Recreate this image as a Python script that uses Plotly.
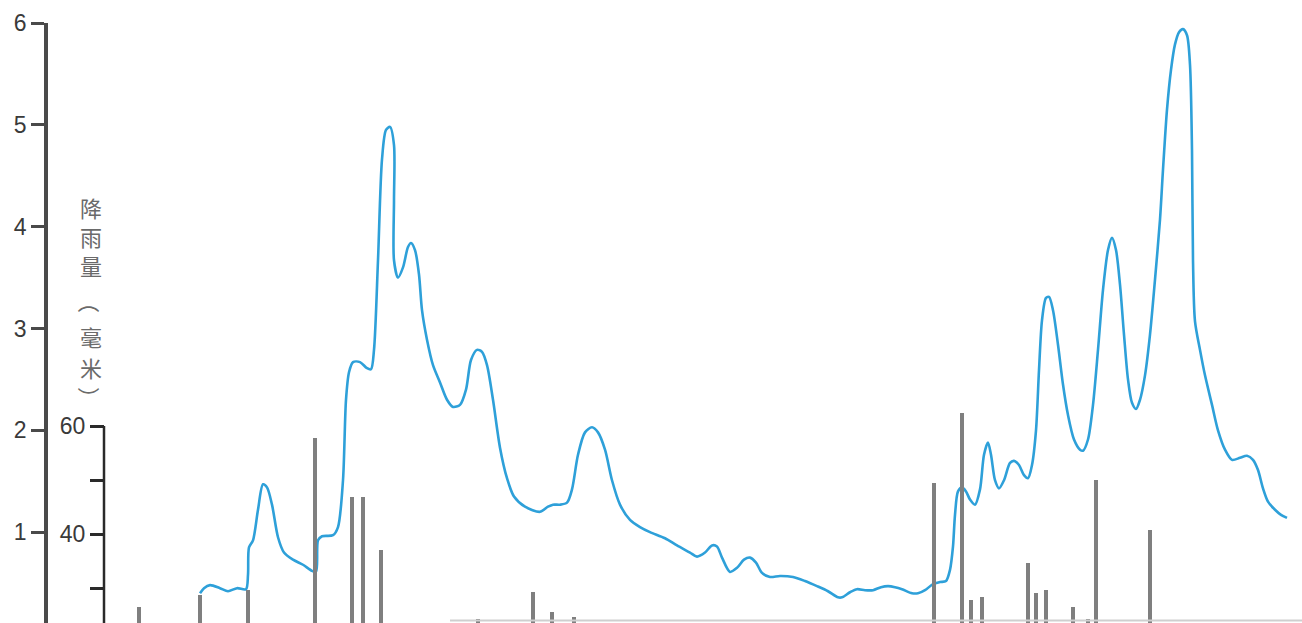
import plotly.graph_objects as go

# ---- data ----
# discharge curve: day index vs discharge (left axis, 0-6)
flow_day = [9.6, 10.0, 10.6, 11.6, 12.4, 13.3, 14.2, 14.4, 14.5, 14.9, 15.4, 15.9, 16.3, 16.8, 17.4, 18.0,
            18.9, 19.9, 20.8, 21.2, 21.4, 21.8, 22.9, 23.4, 23.9, 24.2, 24.5, 24.9, 25.6, 26.3, 26.7, 27.0,
            27.4, 27.8, 28.2, 28.6, 29.0, 29.0, 29.0, 29.4, 29.9, 30.4, 30.7, 31.1, 31.5, 31.8, 32.3, 32.9,
            33.6, 34.3, 34.9, 35.6, 36.2, 36.7, 37.3, 37.8, 38.3, 38.9, 39.6, 40.3, 41.0, 42.1, 43.6, 44.4,
            44.9, 45.6, 46.3, 46.8, 47.4, 48.1, 48.8, 49.4, 50.1, 50.8, 51.6, 52.6, 53.6, 54.6, 56.1, 57.3,
            58.6, 59.3, 60.1, 60.8, 61.3, 61.8, 62.6, 63.3, 64.0, 64.6, 65.2, 65.8, 66.6, 67.6, 68.9, 70.1,
            71.3, 72.4, 73.4, 73.8, 74.6, 75.3, 76.1, 76.9, 77.7, 78.4, 79.1, 79.8, 80.8, 81.4, 82.1, 82.9,
            83.6, 84.2, 84.6, 84.9, 85.1, 85.4, 85.8, 86.2, 86.6, 87.1, 87.6, 88.0, 88.4, 88.7, 89.1, 89.5,
            90.0, 90.6, 91.0, 91.5, 92.0, 92.4, 92.8, 93.2, 93.5, 93.8, 94.2, 94.5, 94.9, 95.4, 95.9, 96.4,
            97.0, 97.6, 97.9, 98.4, 98.9, 99.4, 99.9, 100.4, 100.8, 101.2, 101.6, 102.0, 102.4, 102.8, 103.2,
            103.6, 104.1, 104.6, 105.1, 105.6, 105.9, 106.3, 106.7, 107.1, 107.5, 107.9, 108.3, 108.6, 108.8,
            108.9, 109.1, 109.6, 110.1, 110.8, 111.4, 112.1, 112.8, 113.6, 114.3, 114.9, 115.4, 115.9, 116.4,
            117.1, 117.7, 118.3]
flow_val = [0.40, 0.45, 0.48, 0.45, 0.42, 0.45, 0.44, 0.58, 0.85, 0.92, 1.22, 1.47, 1.44, 1.27, 0.95, 0.80,
            0.73, 0.68, 0.62, 0.61, 0.92, 0.96, 0.97, 1.05, 1.51, 2.30, 2.57, 2.67, 2.67, 2.61, 2.60, 2.79,
            3.67, 4.66, 4.95, 4.98, 4.80, 4.26, 3.67, 3.50, 3.60, 3.80, 3.84, 3.77, 3.53, 3.18, 2.89, 2.64,
            2.47, 2.30, 2.23, 2.25, 2.40, 2.69, 2.79, 2.77, 2.64, 2.30, 1.83, 1.53, 1.35, 1.25, 1.20, 1.25,
            1.27, 1.27, 1.29, 1.42, 1.76, 1.98, 2.03, 1.98, 1.81, 1.51, 1.27, 1.12, 1.05, 1.00, 0.94, 0.87,
            0.80, 0.76, 0.80, 0.87, 0.86, 0.75, 0.61, 0.65, 0.73, 0.75, 0.70, 0.60, 0.56, 0.57, 0.56, 0.52,
            0.47, 0.42, 0.36, 0.36, 0.41, 0.44, 0.43, 0.43, 0.46, 0.47, 0.46, 0.44, 0.40, 0.40, 0.43, 0.49,
            0.51, 0.52, 0.63, 0.86, 1.17, 1.40, 1.44, 1.40, 1.32, 1.27, 1.42, 1.76, 1.88, 1.76, 1.51, 1.43,
            1.51, 1.68, 1.70, 1.66, 1.56, 1.53, 1.66, 2.00, 2.59, 3.08, 3.30, 3.31, 3.18, 2.84, 2.45, 2.15,
            1.91, 1.81, 1.80, 1.91, 2.25, 2.79, 3.38, 3.77, 3.89, 3.77, 3.43, 2.94, 2.50, 2.27, 2.21,
            2.30, 2.54, 2.94, 3.48, 4.07, 4.56, 5.15, 5.54, 5.79, 5.91, 5.94, 5.88, 5.59, 4.75,
            3.67, 3.07, 2.79, 2.54, 2.25, 2.00, 1.81, 1.71, 1.73, 1.75, 1.71, 1.61, 1.43, 1.30,
            1.22, 1.17, 1.14]

# rainfall bars: day index vs rainfall (mm)
rain_day = [3.5, 9.6, 14.4, 21.1, 24.8, 25.9, 27.7, 37.4, 42.9, 44.8, 47.0,
            83.0, 85.8, 86.7, 87.8, 92.4, 93.2, 94.2, 96.9, 98.4, 99.2, 104.6]
rain_mm = [26.5, 28.7, 29.6, 57.8, 46.9, 46.9, 37.0, 24.2, 29.3, 25.6, 24.6,
           49.4, 62.4, 27.8, 28.3, 34.6, 29.1, 29.6, 26.5, 24.2, 50.0, 40.7]

flow_ticks = [1, 2, 3, 4, 5, 6]
rain_ticks = [30, 40, 50, 60]
rain_ticktext = ["", "40", "", "60"]
rain_title = ["降", "雨", "量", "（", "毫", "米", "）"]

W, H = 1302, 623
ML, MT = 48, 23
PW, PH = W - ML, H - MT
rain_axis_pos = (104 - ML) / PW

fig = go.Figure()
fig.add_trace(go.Bar(x=rain_day, y=rain_mm, yaxis="y2", width=0.32,
                     marker=dict(color="#7f7f7f", line=dict(width=0)), showlegend=False))
fig.add_trace(go.Scatter(x=flow_day, y=flow_val, mode="lines",
                         line=dict(color="#2ea0d9", width=2.6, shape="spline", smoothing=0.8),
                         showlegend=False))

axis_col = "#4a4a4a"
fig.update_layout(
    width=W, height=H,
    margin=dict(l=ML, r=0, t=MT, b=0),
    paper_bgcolor="white", plot_bgcolor="white",
    font=dict(family="Liberation Sans, Arial, sans-serif", color="#3a3a3a", size=20),
    xaxis=dict(range=[-5.6, 119.8], visible=False),
    yaxis=dict(range=[0.108, 6.0], tickvals=flow_ticks, showgrid=False, zeroline=False,
               showline=True, linecolor=axis_col, linewidth=3.5,
               ticks="outside", ticklen=13, tickwidth=2.5, tickcolor=axis_col,
               tickfont=dict(size=23, color="#3a3a3a")),
    yaxis2=dict(range=[23.52, 134.63], overlaying="y", anchor="free", position=rain_axis_pos,
                side="left", tickvals=rain_ticks, ticktext=rain_ticktext, showgrid=False,
                zeroline=False, showline=False,
                ticks="outside", ticklen=14, tickwidth=2.5, tickcolor="#2a2a2a",
                tickfont=dict(size=23, color="#3a3a3a")),
    bargap=0,
)

# rainfall axis line only spans up to the 60 tick
fig.add_shape(type="line", xref="paper", yref="y2", x0=rain_axis_pos, x1=rain_axis_pos,
              y0=23.52, y1=60, line=dict(color="#2a2a2a", width=2.5))
# faint baseline at the bottom edge
fig.add_shape(type="line", xref="paper", yref="paper", x0=(450 - ML) / PW, x1=1,
              y0=0.004, y1=0.004, line=dict(color="#cfcfcf", width=2))

# vertical axis title, one upright character per line; brackets turned sideways
title_y_px = [207, 236, 265, 302, 336, 367, 398]
for ch, ypx in zip(rain_title, title_y_px):
    is_bracket = ch in "（）"
    fig.add_annotation(text=ch, xref="paper", yref="paper",
                       x=(91 - ML) / PW, y=1 - (ypx - MT) / PH,
                       xanchor="center", yanchor="middle", showarrow=False,
                       textangle=90 if is_bracket else 0,
                       font=dict(family="Noto Sans CJK SC", size=22, color="#6a6a6a"))

fig.write_html("out.html")
